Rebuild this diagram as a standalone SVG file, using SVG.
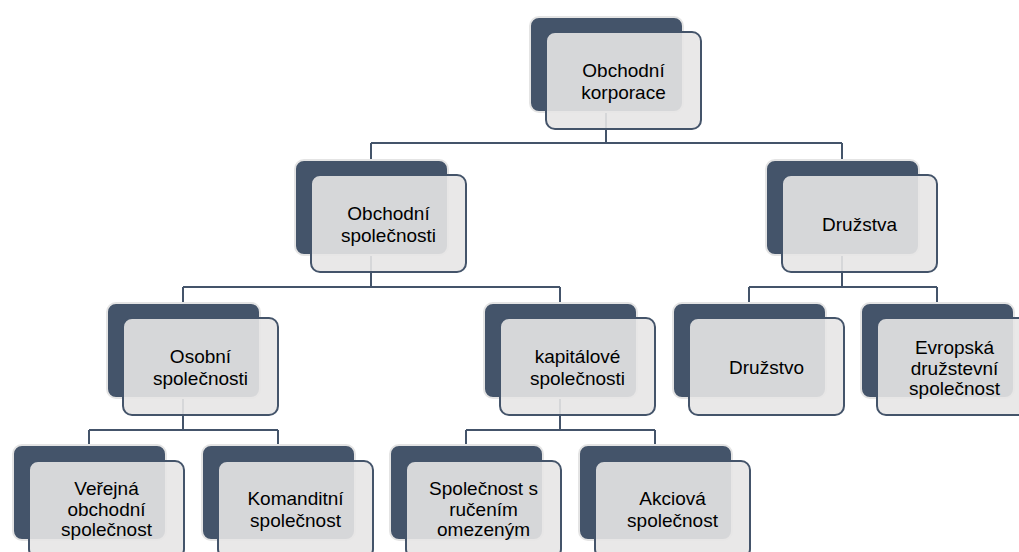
<svg xmlns="http://www.w3.org/2000/svg" width="1019" height="552" viewBox="0 0 1019 552">
<style>
.bk{fill:#44546A;stroke:#E4E4E4;stroke-width:2}
.fr{fill:#E7E6E6;fill-opacity:0.9;stroke:#44546A;stroke-width:2}
.cn{fill:none;stroke:#44546A;stroke-width:2}
text{font-family:"Liberation Sans",Arial,sans-serif;font-size:19px;fill:#000;text-anchor:middle}
</style>
<rect width="1019" height="552" fill="#FFFFFF"/>
<g id="connectors">
<path class="cn" d="M606 112V143M371 143H842M371 143V160M842 143V160"/>
<path class="cn" d="M371 255V287M183 287H560M183 287V303M560 287V303"/>
<path class="cn" d="M842 255V287M749 287H937M749 287V303M937 287V303"/>
<path class="cn" d="M183 398V430M89 430H278M89 430V445M278 430V445"/>
<path class="cn" d="M560 398V430M466 430H655M466 430V445M655 430V445"/>
</g>
<g id="n-korporace">
<rect class="bk" x="530" y="17" width="153" height="95" rx="9"/>
<rect class="fr" x="546" y="32" width="155" height="97" rx="9"/>
<text x="623.5" y="76.5">Obchodní</text>
<text x="623.5" y="98.5">korporace</text>
</g>
<g id="n-obchodni-spolecnosti">
<rect class="bk" x="295" y="160" width="153" height="95" rx="9"/>
<rect class="fr" x="311" y="175" width="155" height="97" rx="9"/>
<text x="388.5" y="219.5">Obchodní</text>
<text x="388.5" y="241.5">společnosti</text>
</g>
<g id="n-druzstva">
<rect class="bk" x="766" y="160" width="153" height="95" rx="9"/>
<rect class="fr" x="782" y="175" width="155" height="97" rx="9"/>
<text x="859.5" y="230.5">Družstva</text>
</g>
<g id="n-osobni">
<rect class="bk" x="107" y="303" width="153" height="95" rx="9"/>
<rect class="fr" x="123" y="318" width="155" height="97" rx="9"/>
<text x="200.5" y="362.5">Osobní</text>
<text x="200.5" y="384.5">společnosti</text>
</g>
<g id="n-kapitalove">
<rect class="bk" x="484" y="303" width="153" height="95" rx="9"/>
<rect class="fr" x="500" y="318" width="155" height="97" rx="9"/>
<text x="577.5" y="362.5">kapitálové</text>
<text x="577.5" y="384.5">společnosti</text>
</g>
<g id="n-druzstvo">
<rect class="bk" x="673" y="303" width="153" height="95" rx="9"/>
<rect class="fr" x="689" y="318" width="155" height="97" rx="9"/>
<text x="766.5" y="373.5">Družstvo</text>
</g>
<g id="n-evropska">
<rect class="bk" x="861" y="303" width="153" height="95" rx="9"/>
<rect class="fr" x="877" y="318" width="155" height="97" rx="9"/>
<text x="954.5" y="354">Evropská</text>
<text x="954.5" y="374.5">družstevní</text>
<text x="954.5" y="395">společnost</text>
</g>
<g id="n-verejna">
<rect class="bk" x="13" y="445" width="153" height="95" rx="9"/>
<rect class="fr" x="29" y="461" width="155" height="97" rx="9"/>
<text x="106.5" y="495">Veřejná</text>
<text x="106.5" y="515.5">obchodní</text>
<text x="106.5" y="536">společnost</text>
</g>
<g id="n-komanditni">
<rect class="bk" x="202" y="445" width="153" height="95" rx="9"/>
<rect class="fr" x="218" y="461" width="155" height="97" rx="9"/>
<text x="295.5" y="505">Komanditní</text>
<text x="295.5" y="527">společnost</text>
</g>
<g id="n-sro">
<rect class="bk" x="390" y="445" width="153" height="95" rx="9"/>
<rect class="fr" x="406" y="461" width="155" height="97" rx="9"/>
<text x="483.5" y="495">Společnost s</text>
<text x="483.5" y="515.5">ručením</text>
<text x="483.5" y="536">omezeným</text>
</g>
<g id="n-akciova">
<rect class="bk" x="579" y="445" width="153" height="95" rx="9"/>
<rect class="fr" x="595" y="461" width="155" height="97" rx="9"/>
<text x="672.5" y="505">Akciová</text>
<text x="672.5" y="527">společnost</text>
</g>
</svg>
